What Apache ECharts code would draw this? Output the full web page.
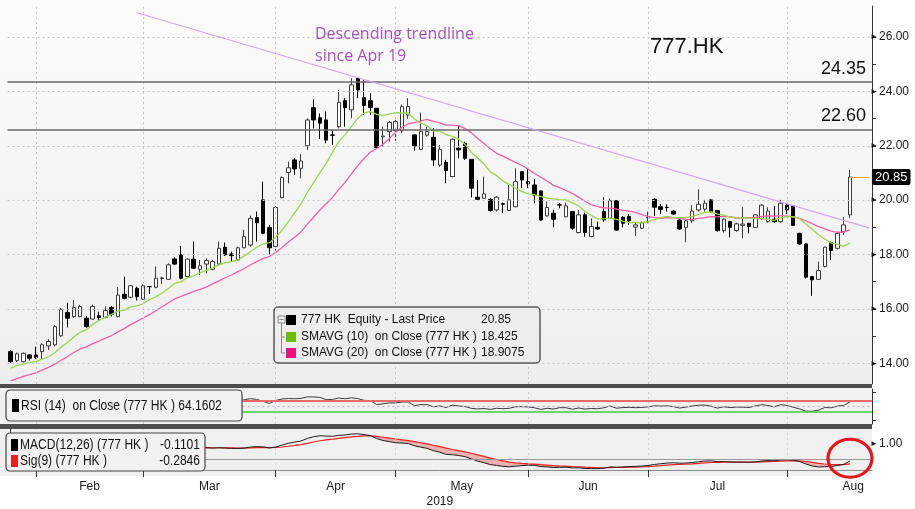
<!DOCTYPE html>
<html>
<head>
<meta charset="utf-8">
<script src="https://cdn.jsdelivr.net/npm/echarts@6/dist/echarts.min.js"></script>
<style>
  html, body { margin: 0; padding: 0; background: #fff; }
  #chart { width: 915px; height: 509px; }
</style>
</head>
<body>
<div id="chart"></div>
<script>
// trading days shown (HK), Jan 28 - Aug 15 2019
const dates = [
  '2019-01-28','2019-01-29','2019-01-30','2019-01-31',
  '2019-02-01','2019-02-04','2019-02-08','2019-02-11','2019-02-12','2019-02-13','2019-02-14','2019-02-15',
  '2019-02-18','2019-02-19','2019-02-20','2019-02-21','2019-02-22','2019-02-25','2019-02-26','2019-02-27','2019-02-28',
  '2019-03-01','2019-03-04','2019-03-05','2019-03-06','2019-03-07','2019-03-08','2019-03-11','2019-03-12','2019-03-13',
  '2019-03-14','2019-03-15','2019-03-18','2019-03-19','2019-03-20','2019-03-21','2019-03-22','2019-03-25','2019-03-26',
  '2019-03-27','2019-03-28','2019-03-29',
  '2019-04-01','2019-04-02','2019-04-03','2019-04-04','2019-04-08','2019-04-09','2019-04-10','2019-04-11','2019-04-12',
  '2019-04-15','2019-04-16','2019-04-17','2019-04-18','2019-04-23','2019-04-24','2019-04-25','2019-04-26','2019-04-29','2019-04-30',
  '2019-05-02','2019-05-03','2019-05-06','2019-05-07','2019-05-08','2019-05-09','2019-05-10','2019-05-14','2019-05-15',
  '2019-05-16','2019-05-17','2019-05-20','2019-05-21','2019-05-22','2019-05-23','2019-05-24','2019-05-27','2019-05-28',
  '2019-05-29','2019-05-30','2019-05-31',
  '2019-06-03','2019-06-04','2019-06-05','2019-06-06','2019-06-10','2019-06-11','2019-06-12','2019-06-13','2019-06-14',
  '2019-06-17','2019-06-18','2019-06-19','2019-06-20','2019-06-21','2019-06-24','2019-06-25','2019-06-26','2019-06-27','2019-06-28',
  '2019-07-02','2019-07-03','2019-07-04','2019-07-05','2019-07-08','2019-07-09','2019-07-10','2019-07-11','2019-07-12',
  '2019-07-15','2019-07-16','2019-07-17','2019-07-18','2019-07-19','2019-07-22','2019-07-23','2019-07-24','2019-07-25',
  '2019-07-26','2019-07-29','2019-07-30','2019-07-31',
  '2019-08-01','2019-08-02','2019-08-05','2019-08-06','2019-08-07','2019-08-08','2019-08-09','2019-08-12','2019-08-13',
  '2019-08-14','2019-08-15'
];
// empty slots after the last bar (chart leaves room before the axis)
const padDates = ['2019-08-16','2019-08-19','2019-08-20'];

const openPx = [14.43,14.10,14.06,14.31,14.31,14.43,14.64,14.68,15.01,15.87,
  15.72,15.72,15.66,15.63,15.75,15.69,16.05,15.72,16.54,16.43,
  16.76,16.36,16.82,16.80,17.12,17.09,17.84,17.99,17.19,17.83,
  17.46,17.65,17.46,17.65,18.27,18.02,17.80,18.25,18.35,19.36,
  20.01,18.99,18.30,20.09,21.02,21.48,21.17,22.00,23.40,23.03,
  22.95,22.40,22.70,23.66,23.32,24.48,23.77,23.66,23.38,22.33,
  22.52,22.55,22.55,23.13,22.40,21.87,22.39,22.31,21.29,21.39,
  20.87,21.91,22.09,21.50,20.11,20.07,20.03,19.64,19.87,19.62,
  19.76,21.05,20.68,20.56,20.34,19.42,19.52,19.83,19.39,19.58,
  18.81,19.46,18.66,19.00,19.58,19.33,19.98,19.37,19.40,19.01,
  18.97,19.36,20.03,19.76,19.74,19.60,19.27,19.00,19.24,19.64,
  19.67,20.01,19.62,18.88,19.21,18.88,19.07,19.15,19.00,19.33,
  19.21,19.30,19.21,19.82,19.79,18.78,18.39,17.19,17.09,17.56,
  18.44,18.23,18.84,19.46];
const closePx = [14.06,14.35,14.37,14.19,14.22,14.68,14.80,15.35,15.99,15.66,
  16.06,16.09,15.35,16.09,15.68,15.94,15.80,16.51,16.39,16.85,
  16.45,16.85,16.82,17.13,17.14,17.62,17.65,17.13,17.83,17.50,
  17.59,17.78,17.74,18.23,17.99,17.96,18.25,18.66,19.33,19.17,
  18.78,18.25,19.73,20.83,21.19,21.15,21.44,22.95,22.95,22.83,
  22.21,22.39,23.60,23.40,24.24,24.05,23.48,23.41,21.93,22.36,
  22.86,22.89,23.44,23.44,21.99,22.52,22.52,21.48,21.87,21.09,
  22.24,21.85,21.54,20.44,20.03,20.23,19.62,20.11,19.85,20.01,
  20.68,20.74,20.60,20.19,19.27,19.73,19.30,19.82,19.79,18.97,
  19.46,18.81,19.03,18.94,19.27,19.98,18.90,19.15,19.24,19.09,
  19.17,19.38,19.74,19.66,19.73,19.49,18.94,19.24,19.60,19.85,
  19.89,19.58,18.88,19.30,19.00,19.13,19.12,19.03,19.46,19.82,
  19.60,19.21,19.89,19.64,19.07,18.39,17.17,17.07,17.41,18.27,
  18.15,18.78,19.09,20.85];
const lowPx = [14.02,14.05,14.03,14.10,14.15,14.15,14.49,14.62,14.98,15.32,
  15.66,15.69,15.31,15.60,15.57,15.66,15.72,15.69,16.35,16.39,
  16.31,16.33,16.55,16.76,16.92,17.07,17.61,17.09,17.15,17.46,
  17.25,17.31,17.43,17.62,17.95,17.74,17.77,18.23,18.29,18.48,
  18.75,18.01,18.15,20.07,20.62,20.93,20.80,21.85,22.64,22.25,
  22.09,22.03,22.64,22.70,23.01,23.75,23.13,23.13,21.91,21.97,
  22.15,22.18,22.46,23.00,21.82,21.85,22.33,21.26,21.23,20.62,
  20.84,21.54,21.48,20.10,20.03,20.07,19.58,19.58,19.52,19.60,
  19.74,20.44,20.44,19.88,19.25,19.40,19.00,19.70,19.37,18.90,
  18.78,18.66,18.64,18.90,19.21,19.30,18.88,19.00,19.09,18.68,
  18.93,19.15,19.42,19.49,19.58,19.46,18.90,18.45,19.17,19.58,
  19.58,19.54,18.84,18.81,18.63,18.84,18.60,18.78,18.97,19.27,
  19.17,19.17,19.17,19.49,19.05,18.35,17.12,16.48,17.07,17.53,
  17.80,18.19,18.72,19.33];
const highPx = [14.49,14.40,14.40,14.33,14.61,14.74,14.89,15.41,16.04,16.23,
  16.33,16.15,15.74,16.16,15.90,16.09,16.11,16.80,17.19,16.89,
  16.82,16.91,16.84,17.56,17.19,17.68,17.90,18.32,17.86,18.48,
  17.80,17.86,17.80,18.48,18.44,18.11,18.29,18.91,19.43,19.58,
  20.68,19.09,19.78,20.87,21.42,21.54,21.69,23.01,23.71,23.19,
  23.26,22.58,24.05,23.75,24.48,24.52,24.42,23.93,23.38,22.70,
  22.91,22.95,23.52,23.75,22.42,23.22,22.70,22.64,22.03,21.48,
  22.27,22.76,22.15,21.50,20.74,20.87,20.07,20.15,19.91,20.56,
  21.17,21.07,21.17,20.77,20.34,19.95,19.64,19.89,19.91,19.58,
  19.64,19.54,19.33,19.21,20.11,20.07,20.00,19.42,19.49,19.17,
  19.21,19.58,20.07,19.86,19.85,19.64,19.30,19.27,19.82,20.40,
  20.01,20.03,19.64,19.33,19.24,19.17,19.74,19.15,19.48,19.85,
  19.74,19.79,20.01,19.89,19.82,18.80,18.41,17.19,17.74,18.29,
  18.48,18.84,19.37,21.11];

// closes before the visible window (estimated from where the averages start)
const priorCloses = [12.40,12.50,12.45,12.60,12.55,12.70,12.65,12.80,12.75,12.90,
  12.85,12.70,12.80,12.95,13.10,12.95,13.10,13.45,13.85,13.65,
  13.80,13.80,13.90,13.85,13.95,13.95];

// values printed on the chart
const lastPrice = 20.85;
const sma10Last = 18.425;
const sma20Last = 18.9075;
const rsiLast = 64.1602;
const macdLast = -0.1101;
const sigLast = -0.2846;
const levels = [24.35, 22.60];
// descending trendline end points [date index, price]
const trendFrom = [20, 26.89];
const trendTo = [136, 18.98];
const monthNames = ['Feb', 'Mar', 'Apr', 'May', 'Jun', 'Jul', 'Aug'];

const cats = dates.concat(padDates);
const allCloses = priorCloses.concat(closePx);
const P = priorCloses.length;

function sma(n) {
  return closePx.map((_, i) => {
    let s = 0;
    for (let k = P + i - n + 1; k <= P + i; k++) s += allCloses[k];
    return +(s / n).toFixed(4);
  });
}
function ema(arr, n) {
  const k = 2 / (n + 1);
  const out = [];
  let e = arr[0];
  arr.forEach((v, i) => { e = i === 0 ? v : v * k + e * (1 - k); out.push(e); });
  return out;
}
function rsi(n) {
  let ag = 0, al = 0;
  const out = [];
  for (let i = 1; i < allCloses.length; i++) {
    const d = allCloses[i] - allCloses[i - 1];
    const g = Math.max(d, 0), l = Math.max(-d, 0);
    if (i <= n) { ag += g / n; al += l / n; }
    else { ag = (ag * (n - 1) + g) / n; al = (al * (n - 1) + l) / n; }
    out.push(al === 0 ? 100 : 100 - 100 / (1 + ag / al));
  }
  return out.slice(P - 1).map(v => +v.toFixed(3));
}

const ma10 = sma(10);
const ma20 = sma(20);
const rsi14 = rsi(14);
const e12 = ema(allCloses, 12), e26 = ema(allCloses, 26);
const macdAll = e12.map((v, i) => v - e26[i]);
const sigAll = ema(macdAll, 9);
const macd = macdAll.slice(P).map(v => +v.toFixed(4));
const sig = sigAll.slice(P).map(v => +v.toFixed(4));
const fillBase = macd.map((m, i) => Math.min(m, sig[i]));
const fillGap = macd.map((m, i) => +Math.max(sig[i] - m, 0).toFixed(4));

const candles = dates.map((d, i) => [openPx[i], closePx[i], lowPx[i], highPx[i]]);
const monthStarts = dates.map((d, i) => i).filter(i => i > 0 && dates[i].slice(5, 7) !== dates[i - 1].slice(5, 7));
const monthMids = monthStarts.map((s, k) => ((monthStarts[k + 1] || s + 21) + s) / 2);

const chart = echarts.init(document.getElementById('chart'));

const X0 = 7.5;
const W = 864.6;
const grids = [
  { left: X0, width: W, top: 6, height: 378 },
  { left: X0, width: W, top: 389, height: 35 },
  { left: X0, width: W, top: 429, height: 47 }
];

const dotted = { color: '#c4c4d0', width: 1, type: [2, 3] };
const tagLine = (xi, val, text, bg, fg, lineColor, font) => ({
  silent: true, symbol: ['none', 'none'],
  lineStyle: lineColor ? { color: lineColor, width: 1, type: 'solid' } : { opacity: 0 },
  label: {
    show: true, position: 'end', distance: 3, formatter: text,
    backgroundColor: bg, color: fg, padding: [2, 3, 1, 3], borderRadius: 2,
    fontFamily: font || 'Liberation Sans', fontSize: 13
  },
  data: [[{ coord: [cats[xi], val] }, { coord: [cats[cats.length - 1], val] }]]
});
const last = dates.length - 1;

const axisFont = { fontFamily: 'Liberation Sans', fontSize: 12, color: '#1a1a1a' };
const narrow = "'Liberation Sans Narrow','Liberation Sans'";

const option = {
  animation: false,
  backgroundColor: 'transparent',
  grid: grids,
  xAxis: [0, 1, 2].map(g => ({
    type: 'category', gridIndex: g, data: cats, boundaryGap: true,
    axisLine: { show: false }, axisTick: { show: false }, axisLabel: { show: false }, splitLine: { show: false }
  })).concat([{
    type: 'value', gridIndex: 2, position: 'bottom', min: -0.5, max: cats.length - 0.5,
    axisLine: { show: true, onZero: false, lineStyle: { color: '#8a8a8a' } },
    axisTick: { show: true, length: 7, customValues: monthStarts, lineStyle: { color: '#333' } },
    axisLabel: Object.assign({
      customValues: monthMids, margin: 11,
      formatter: v => monthNames[monthMids.indexOf(v)] || ''
    }, axisFont),
    splitLine: { show: false },
    name: '2019', nameLocation: 'middle', nameGap: 26,
    nameTextStyle: axisFont
  }]),
  yAxis: [
    {
      type: 'value', gridIndex: 0, position: 'right', min: 13.24, max: 27.14,
      axisLine: { show: true, lineStyle: { color: '#333' } },
      axisTick: { show: true, length: 4, customValues: [14, 15, 16, 17, 18, 19, 20, 21, 22, 23, 24, 25, 26], lineStyle: { color: '#333' } },
      axisLabel: {
        customValues: [14, 16, 18, 20, 22, 24, 26], margin: -2,
        formatter: v => '{a|\u25BA}' + v.toFixed(2),
        fontFamily: 'Liberation Sans', fontSize: 12, color: '#1a1a1a',
        rich: { a: { fontSize: 8, color: '#1a1a1a', padding: [0, 1, 0, 0] } }
      },
      splitLine: { show: false }
    },
    {
      type: 'value', gridIndex: 1, position: 'right', min: -14, max: 110,
      axisLine: { show: true, lineStyle: { color: '#333' } },
      axisTick: { show: true, length: 4, customValues: [0, 100], lineStyle: { color: '#333' } },
      axisLabel: { show: false }, splitLine: { show: false }
    },
    {
      type: 'value', gridIndex: 2, position: 'right', min: -0.667, max: 1.944,
      axisLine: { show: true, lineStyle: { color: '#333' } },
      axisTick: { show: true, length: 4, customValues: [-0.5, 0.5, 1, 1.5], lineStyle: { color: '#333' } },
      axisLabel: {
        customValues: [1], margin: -2,
        formatter: v => '{a|\u25BA}' + v.toFixed(2),
        fontFamily: 'Liberation Sans', fontSize: 12, color: '#1a1a1a',
        rich: { a: { fontSize: 8, color: '#1a1a1a', padding: [0, 1, 0, 0] } }
      },
      splitLine: { show: false }
    }
  ],
  series: [
    // grid lines and levels
    {
      type: 'line', xAxisIndex: 0, yAxisIndex: 0, data: [], silent: true,
      markLine: {
        silent: true, symbol: ['none', 'none'], label: { show: false },
        lineStyle: dotted,
        data: [14, 16, 18, 20, 22, 24, 26].map(v => ({ yAxis: v }))
          .concat(monthStarts.map(i => ({ xAxis: cats[i] })))
      }
    },
    {
      type: 'line', xAxisIndex: 0, yAxisIndex: 0, data: [], silent: true,
      markLine: {
        silent: true, symbol: ['none', 'none'],
        lineStyle: { color: '#6a6a6a', width: 1.6, type: 'solid' },
        label: {
          show: true, position: 'insideEndTop', distance: [6, 4],
          formatter: p => p.value.toFixed(2),
          fontFamily: 'Liberation Sans', fontSize: 18, color: '#111'
        },
        data: levels.map(v => ({ yAxis: v }))
      }
    },
    {
      name: '777 HK Equity - Last Price', type: 'candlestick', xAxisIndex: 0, yAxisIndex: 0,
      data: candles, barWidth: 4,
      itemStyle: { color: '#ffffff', color0: '#000000', borderColor: '#3a3a3a', borderColor0: '#000000', borderWidth: 1 },
      markLine: {
        silent: true, symbol: ['none', 'none'], label: { show: false },
        lineStyle: { color: '#d2a6f4', width: 1.2, type: 'solid' },
        data: [[{ coord: [cats[trendFrom[0]], trendFrom[1]] }, { coord: [cats[trendTo[0]], trendTo[1]] }]]
      }
    },
    {
      type: 'line', xAxisIndex: 0, yAxisIndex: 0, data: [], silent: true,
      markLine: tagLine(last, lastPrice, lastPrice.toFixed(2), '#000', '#fff', '#f0a030')
    },
    {
      name: 'SMAVG (20)', type: 'line', xAxisIndex: 0, yAxisIndex: 0, data: ma20,
      symbol: 'none', lineStyle: { color: '#f25ea4', width: 1.3 },
      markLine: tagLine(last, sma20Last, String(sma20Last), '#ee2a8c', '#fff')
    },
    {
      name: 'SMAVG (10)', type: 'line', xAxisIndex: 0, yAxisIndex: 0, data: ma10,
      symbol: 'none', lineStyle: { color: '#98d64c', width: 1.3 },
      markLine: tagLine(last, sma10Last, String(sma10Last), '#7cc81c', '#102000')
    },
    // RSI panel
    {
      type: 'line', xAxisIndex: 1, yAxisIndex: 1, data: [], silent: true,
      markLine: {
        silent: true, symbol: ['none', 'none'], label: { show: false },
        data: [
          { yAxis: 70, lineStyle: { color: '#ee6a6a', width: 2, type: 'solid' } },
          { yAxis: 50, lineStyle: { color: '#b8b8c4', width: 1, type: [2, 3] } },
          { yAxis: 30, lineStyle: { color: '#3ccf3c', width: 1.5, type: 'solid' } }
        ].concat(monthStarts.map(i => ({ xAxis: cats[i], lineStyle: Object.assign({}, dotted, { opacity: 0.8 }) })))
      }
    },
    {
      name: 'RSI (14)', type: 'line', xAxisIndex: 1, yAxisIndex: 1, data: rsi14,
      symbol: 'none', lineStyle: { color: '#3c3c3c', width: 1 },
      markLine: tagLine(last, rsiLast, String(rsiLast), '#000', '#fff', null, narrow)
    },
    // MACD panel
    {
      type: 'line', xAxisIndex: 2, yAxisIndex: 2, data: [], silent: true,
      markLine: {
        silent: true, symbol: ['none', 'none'], label: { show: false },
        data: [{ yAxis: 0, lineStyle: { color: '#9a9a9a', width: 1, type: 'solid' } }]
          .concat(monthStarts.map(i => ({ xAxis: cats[i], lineStyle: Object.assign({}, dotted, { opacity: 0.6 }) })))
      }
    },
    {
      type: 'line', xAxisIndex: 2, yAxisIndex: 2, data: fillBase, stack: 'gap', stackStrategy: 'all',
      symbol: 'none', lineStyle: { opacity: 0 }, silent: true
    },
    {
      type: 'line', xAxisIndex: 2, yAxisIndex: 2, data: fillGap, stack: 'gap', stackStrategy: 'all',
      symbol: 'none', lineStyle: { opacity: 0 }, areaStyle: { color: 'rgba(232,88,88,0.6)' }, silent: true
    },
    {
      name: 'Sig(9)', type: 'line', xAxisIndex: 2, yAxisIndex: 2, data: sig,
      symbol: 'none', lineStyle: { color: '#ee2020', width: 1.2 }
    },
    {
      name: 'MACD(12,26)', type: 'line', xAxisIndex: 2, yAxisIndex: 2, data: macd,
      symbol: 'none', lineStyle: { color: '#1c1c1c', width: 1 },
      markLine: tagLine(last, macdLast, String(macdLast), '#000', '#fff', null, narrow),
      markPoint: {
        silent: true, symbol: 'circle', symbolSize: [44, 38], symbolOffset: [0, -3],
        itemStyle: { color: 'rgba(0,0,0,0)', borderColor: '#e8141c', borderWidth: 3 },
        label: { show: false },
        data: [{ coord: [cats[last], macdLast] }]
      }
    }
  ],
  graphic: [
    // panel backgrounds and separators
    { type: 'rect', z: -1, silent: true, shape: { x: 0, y: 0, width: 872, height: 384 },
      style: { fill: new echarts.graphic.LinearGradient(0, 0, 0, 1, [{ offset: 0, color: '#fbfbfb' }, { offset: 1, color: '#eeeeee' }]) } },
    { type: 'rect', z: -1, silent: true, shape: { x: 0, y: 388, width: 872, height: 36 }, style: { fill: '#f0f0f0' } },
    { type: 'rect', z: -1, silent: true, shape: { x: 0, y: 429, width: 872, height: 47 }, style: { fill: '#f0f0f0' } },
    { type: 'rect', z: -1, silent: true, shape: { x: 0, y: 384, width: 872, height: 4 }, style: { fill: '#4d4d4d' } },
    { type: 'rect', z: -1, silent: true, shape: { x: 0, y: 424, width: 872, height: 5 }, style: { fill: '#4d4d4d' } },
    // annotations
    { type: 'text', z: 10, silent: true, x: 315, y: 23,
      style: { text: 'Descending trendline\nsince Apr 19', fill: '#a553b9', font: '16px "Open Sans"', lineHeight: 22 } },
    { type: 'text', z: 10, silent: true, x: 650, y: 36,
      style: { text: '777.HK', fill: '#111', font: '22px "Liberation Sans"' } },
    // main legend
    { type: 'group', z: 100, x: 274, y: 307, children: [
      { type: 'rect', z: 100, shape: { x: 0, y: 0, width: 266, height: 56, r: 4 }, style: { fill: 'rgba(236,236,236,0.95)', stroke: '#5a5a5a', lineWidth: 1.5 } },
      { type: 'rect', z: 101, shape: { x: 4, y: 9, width: 7, height: 7 }, style: { fill: 'none', stroke: '#888', lineWidth: 1 } },
      { type: 'line', z: 101, shape: { x1: 5.5, y1: 12.5, x2: 9.5, y2: 12.5 }, style: { stroke: '#888', lineWidth: 1 } },
      { type: 'polyline', z: 101, shape: { points: [[7.5, 16], [7.5, 46], [11, 46]] }, style: { stroke: '#888', fill: 'none', lineWidth: 1 } },
      { type: 'line', z: 101, shape: { x1: 7.5, y1: 30, x2: 11, y2: 30 }, style: { stroke: '#888', lineWidth: 1 } },
      { type: 'rect', z: 101, shape: { x: 12, y: 8, width: 10, height: 10 }, style: { fill: '#000' } },
      { type: 'rect', z: 101, shape: { x: 12, y: 25, width: 10, height: 10 }, style: { fill: '#6cbf00' } },
      { type: 'rect', z: 101, shape: { x: 12, y: 41, width: 10, height: 10 }, style: { fill: '#e8147e' } },
      { type: 'text', z: 101, x: 27, y: 13, style: { text: '777 HK  Equity - Last Price', fill: '#111', font: '12px "Liberation Sans"', verticalAlign: 'middle' } },
      { type: 'text', z: 101, x: 207, y: 13, style: { text: lastPrice.toFixed(2), fill: '#111', font: '12px "Liberation Sans"', verticalAlign: 'middle' } },
      { type: 'text', z: 101, x: 27, y: 30, style: { text: 'SMAVG (10)  on Close (777 HK )', fill: '#111', font: '12px "Liberation Sans"', verticalAlign: 'middle' } },
      { type: 'text', z: 101, x: 207, y: 30, style: { text: String(sma10Last), fill: '#111', font: '12px "Liberation Sans"', verticalAlign: 'middle' } },
      { type: 'text', z: 101, x: 27, y: 46, style: { text: 'SMAVG (20)  on Close (777 HK )', fill: '#111', font: '12px "Liberation Sans"', verticalAlign: 'middle' } },
      { type: 'text', z: 101, x: 207, y: 46, style: { text: String(sma20Last), fill: '#111', font: '12px "Liberation Sans"', verticalAlign: 'middle' } }
    ] },
    // RSI legend
    { type: 'group', z: 100, x: 6, y: 390, children: [
      { type: 'rect', z: 100, shape: { x: 0, y: 0, width: 236, height: 31, r: 4 }, style: { fill: '#f1f1f1', stroke: '#444', lineWidth: 1.2 } },
      { type: 'rect', z: 101, shape: { x: 6, y: 9, width: 7, height: 13 }, style: { fill: '#000' } },
      { type: 'text', z: 101, x: 15, y: 16, scaleX: 0.86, style: { text: 'RSI (14)  on Close (777 HK ) ' + rsiLast, fill: '#111', font: '14px ' + narrow, verticalAlign: 'middle' } }
    ] },
    // MACD legend
    { type: 'group', z: 100, x: 6, y: 433, children: [
      { type: 'rect', z: 100, shape: { x: 0, y: 0, width: 199, height: 38, r: 4 }, style: { fill: '#f1f1f1', stroke: '#444', lineWidth: 1.2 } },
      { type: 'rect', z: 101, shape: { x: 5, y: 6, width: 7, height: 12 }, style: { fill: '#000' } },
      { type: 'rect', z: 101, shape: { x: 5, y: 22, width: 7, height: 12 }, style: { fill: '#ee1c1c' } },
      { type: 'text', z: 101, x: 14, y: 12, scaleX: 0.86, style: { text: 'MACD(12,26) (777 HK )', fill: '#111', font: '14px ' + narrow, verticalAlign: 'middle' } },
      { type: 'text', z: 101, x: 194, y: 12, scaleX: 0.86, style: { text: String(macdLast), fill: '#111', font: '14px ' + narrow, verticalAlign: 'middle', align: 'right' } },
      { type: 'text', z: 101, x: 14, y: 28, scaleX: 0.86, style: { text: 'Sig(9) (777 HK )', fill: '#111', font: '14px ' + narrow, verticalAlign: 'middle' } },
      { type: 'text', z: 101, x: 194, y: 28, scaleX: 0.86, style: { text: String(sigLast), fill: '#111', font: '14px ' + narrow, verticalAlign: 'middle', align: 'right' } }
    ] }
  ]
};

chart.setOption(option);
window.addEventListener('resize', () => chart.resize());
</script>
</body>
</html>
